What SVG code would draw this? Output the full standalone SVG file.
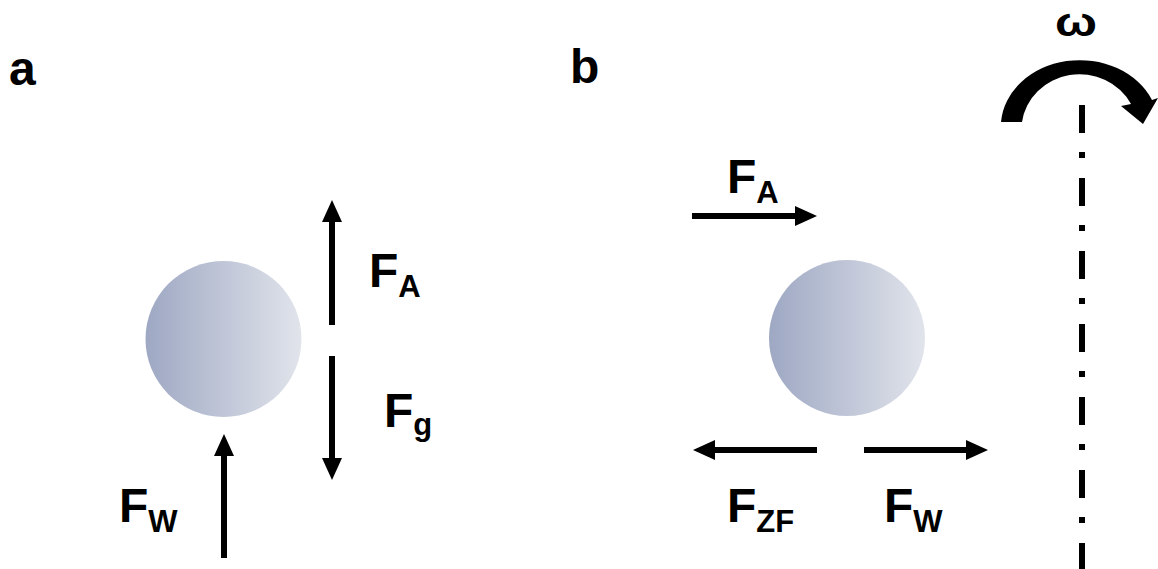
<svg xmlns="http://www.w3.org/2000/svg" width="1158" height="569" viewBox="0 0 1158 569">
<style>
.lbl{font-family:"Liberation Sans",Arial,sans-serif;font-weight:bold;fill:#000}
.big{font-size:48px}
.sub{font-size:31px}
.shaft{stroke:#000;stroke-width:6;fill:none}
.head{fill:#000}
</style>
<defs>
<linearGradient id="ball" x1="0" y1="0" x2="1" y2="0">
<stop offset="0" stop-color="#9ea8c3"/>
<stop offset="1" stop-color="#e1e4eb"/>
</linearGradient>
</defs>
<rect width="1158" height="569" fill="#fff"/>
<text class="lbl big" x="9" y="85">a</text>
<text class="lbl big" x="570" y="83">b</text>
<g id="ball-a"><circle cx="223.5" cy="339" r="78" fill="url(#ball)"/></g>
<g id="ball-b"><circle cx="847" cy="338" r="78" fill="url(#ball)"/></g>
<g id="axis"><line x1="1082" y1="105" x2="1082" y2="569" stroke="#000" stroke-width="6" stroke-dasharray="28 19 6 20"/></g>
<g id="omega">
<path d="M1001,122 A79,67 0 0 1 1152,100 L1158,98 L1143,124 L1121,106 L1131,104 A58,55 0 0 0 1022,122 Z" fill="#000"/>
<text class="lbl" x="1055" y="36" font-size="40" textLength="42" lengthAdjust="spacingAndGlyphs">ω</text>
</g>
<g id="connectors">
<line class="shaft" x1="332" y1="325" x2="332" y2="220"/><polygon class="head" points="322,222 332,200 342,222"/>
<line class="shaft" x1="332" y1="356" x2="332" y2="460"/><polygon class="head" points="322,458 342,458 332,480"/>
<line class="shaft" x1="224" y1="558" x2="224" y2="454"/><polygon class="head" points="214,456 224,434 234,456"/>
<line class="shaft" x1="692" y1="216" x2="797" y2="216"/><polygon class="head" points="795,206 817,216 795,226"/>
<line class="shaft" x1="817" y1="450" x2="713" y2="450"/><polygon class="head" points="715,440 693,450 715,460"/>
<line class="shaft" x1="864" y1="450" x2="968" y2="450"/><polygon class="head" points="966,440 988,450 966,460"/>
</g>
<g id="labels">
<text class="lbl" x="369" y="287"><tspan class="big">F</tspan><tspan class="sub" dy="10">A</tspan></text>
<text class="lbl" x="384" y="427"><tspan class="big">F</tspan><tspan class="sub" dy="8">g</tspan></text>
<text class="lbl" x="119" y="522"><tspan class="big">F</tspan><tspan class="sub" dy="10">W</tspan></text>
<text class="lbl" x="727" y="193"><tspan class="big">F</tspan><tspan class="sub" dy="10">A</tspan></text>
<text class="lbl" x="727" y="522"><tspan class="big">F</tspan><tspan class="sub" dy="10">ZF</tspan></text>
<text class="lbl" x="884" y="522"><tspan class="big">F</tspan><tspan class="sub" dy="10">W</tspan></text>
</g>
</svg>
